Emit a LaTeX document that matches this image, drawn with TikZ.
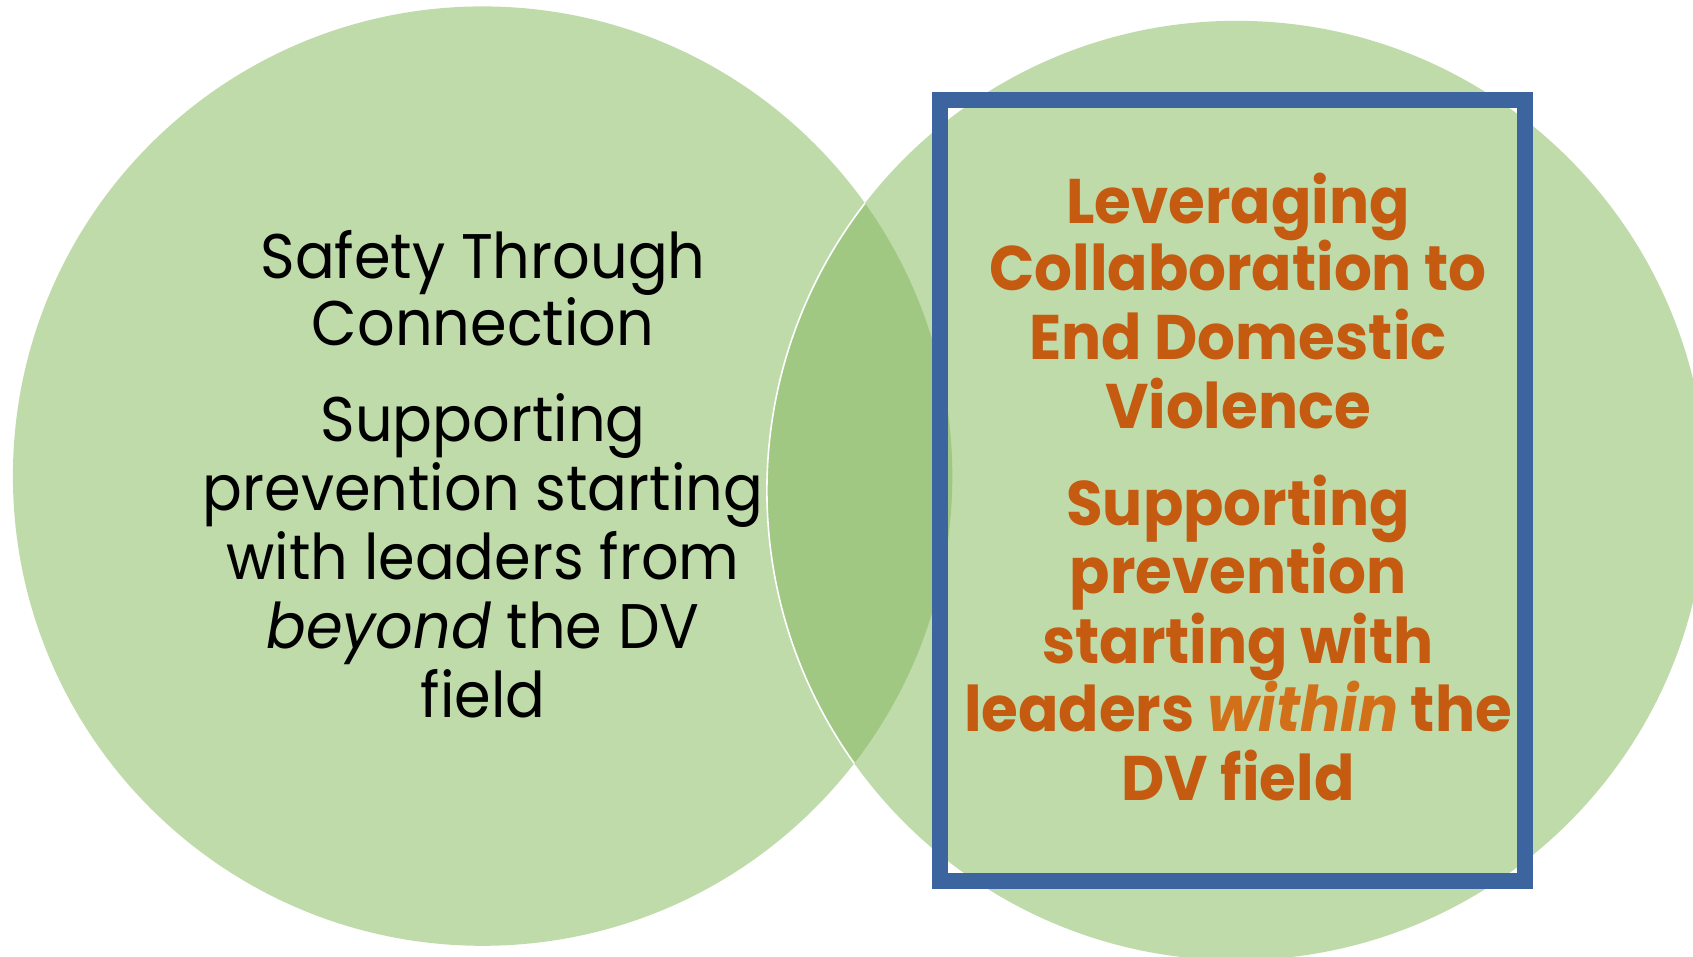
\documentclass[tikz,border=0pt]{standalone}
\usepackage{fontspec}
\setmainfont{Poppins}
\newfontfamily\lefttextfont{Poppins}[FakeStretch=0.935]
\newfontfamily\righttextfont{Poppins}[FakeStretch=0.945]
\definecolor{venngreen}{HTML}{C0DBAA}
\definecolor{lensgreen}{HTML}{A0C882}
\definecolor{frameblue}{HTML}{3C649E}
\definecolor{textorange}{HTML}{C55A11}
\definecolor{italorange}{HTML}{D2701A}
\tikzset{
  lefttext/.style={anchor=base, inner sep=0pt, text=black, font=\lefttextfont\fontsize{63}{68}\selectfont},
  righttext/.style={anchor=base, inner sep=0pt, text=textorange, font=\righttextfont\bfseries\fontsize{63}{68}\selectfont},
  frame/.style={draw=frameblue, line width=16pt}
}
\begin{document}
\begin{tikzpicture}[x=1pt,y=-1pt]
\useasboundingbox (0,0) rectangle (1693,956);
\clip (0,0) rectangle (1693,956);
% circles
\fill[venngreen] (482.6,476.1) circle[radius=469.7];
\fill[venngreen] (1236.6,490.5) circle[radius=469.7];
\begin{scope}
  \clip (482.6,476.1) circle[radius=469.7];
  \fill[lensgreen] (1236.6,490.5) circle[radius=469.7];
  \draw[white, line width=1.6pt] (1236.6,490.5) circle[radius=469.7];
\end{scope}
% frame
\draw[frame] (939.7,100.3) rectangle (1524.7,881);
% left text
\node[lefttext] (l1) at (483,278.3) {Safety Through};
\node[lefttext] (l2) at (483,345) {Connection};
\node[lefttext] (l3) at (483,441.7) {Supporting};
\node[lefttext] (l4) at (483,510) {prevention starting};
\node[lefttext] (l5) at (483,579.3) {with leaders from};
\node[lefttext] (l6) at (483,648.3) {\itshape beyond\upshape{} the DV};
\node[lefttext] (l7) at (483,717.3) {field};
% right text
\node[righttext] (r1) at (1238,223.3) {Leveraging};
\node[righttext] (r2) at (1238,290) {Collaboration to};
\node[righttext] (r3) at (1238,359.3) {End Domestic};
\node[righttext] (r4) at (1238,428.3) {Violence};
\node[righttext] (r5) at (1238,525) {Supporting};
\node[righttext] (r6) at (1238,593.3) {prevention};
\node[righttext] (r7) at (1238,663.3) {starting with};
\node[righttext] (r8) at (1238,731.7) {leaders \textcolor{italorange}{\itshape within} the};
\node[righttext] (r9) at (1238,800) {DV field};
\end{tikzpicture}
\end{document}
